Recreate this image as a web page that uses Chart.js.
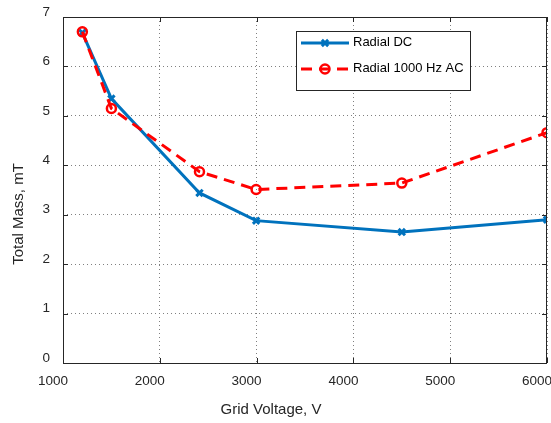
<!DOCTYPE html>
<html>
<head>
<meta charset="utf-8">
<script src="https://cdn.jsdelivr.net/npm/chart.js@4"></script>
<style>
  html, body { margin: 0; padding: 0; background: #fff; }
  #wrap { width: 551px; height: 423px; }
</style>
</head>
<body>
<div id="wrap"><canvas id="massChart" width="551" height="423"></canvas></div>
<script>
// values
const voltage = [1200, 1500, 2410, 2995, 4500, 6000];
const massDC = [6.68, 5.35, 3.44, 2.88, 2.65, 2.90];
const massAC = [6.70, 5.15, 3.87, 3.51, 3.64, 4.66];
const seriesNames = ['Radial DC', 'Radial 1000 Hz AC'];
const xTicks = [1000, 2000, 3000, 4000, 5000, 6000];
const yTicks = [0, 1, 2, 3, 4, 5, 6, 7];
const xTitle = 'Grid Voltage, V';
const yTitle = 'Total Mass, mT';

const axisColor = '#262626';
const FONT = 'Liberation Sans, Arial, Helvetica, sans-serif';

// box round the plot, with small inward ticks like the original
const boxPlugin = {
  id: 'box',
  afterDatasetsDraw(chart) {
    const { ctx, chartArea: a, scales } = chart;
    ctx.save();
    ctx.strokeStyle = axisColor;
    ctx.lineWidth = 1;
    ctx.strokeRect(a.left + 0.5, a.top + 0.5, a.right - a.left - 1, a.bottom - a.top);
    ctx.beginPath();
    xTicks.forEach(v => {
      const px = Math.round(scales.x.getPixelForValue(v)) + 0.5;
      ctx.moveTo(px, a.bottom); ctx.lineTo(px, a.bottom - 5);
      ctx.moveTo(px, a.top); ctx.lineTo(px, a.top + 5);
    });
    yTicks.forEach(v => {
      const py = Math.round(scales.y.getPixelForValue(v)) + 0.5;
      ctx.moveTo(a.left, py); ctx.lineTo(a.left + 5, py);
      ctx.moveTo(a.right, py); ctx.lineTo(a.right - 5, py);
    });
    ctx.stroke();
    ctx.restore();
  }
};

// axis titles sit off-centre in the original, so they are placed by hand
const axisTitles = {
  id: 'axisTitles',
  afterDraw(chart) {
    const ctx = chart.ctx;
    ctx.save();
    ctx.fillStyle = axisColor;
    ctx.font = '15px ' + FONT;
    ctx.textAlign = 'center';
    ctx.textBaseline = 'middle';
    ctx.fillText(xTitle, 271, 410);
    ctx.translate(19, 214);
    ctx.rotate(-Math.PI / 2);
    ctx.fillText(yTitle, 0, 0);
    ctx.restore();
  }
};

// legend box drawn inside the plot, top right
const legendBox = {
  id: 'legendBox',
  afterDraw(chart) {
    const ctx = chart.ctx;
    const x0 = 296, y0 = 31, w = 174, h = 59;
    ctx.save();
    ctx.fillStyle = '#fff';
    ctx.fillRect(x0, y0, w, h);
    ctx.strokeStyle = axisColor;
    ctx.lineWidth = 1;
    ctx.strokeRect(x0 + 0.5, y0 + 0.5, w, h);
    chart.data.datasets.forEach((ds, i) => {
      const y = y0 + 12 + i * 26;
      ctx.strokeStyle = ds.borderColor;
      ctx.lineWidth = ds.borderWidth;
      ctx.setLineDash(ds.borderDash || []);
      ctx.beginPath();
      ctx.moveTo(x0 + 5, y);
      ctx.lineTo(x0 + 53, y);
      ctx.stroke();
      ctx.setLineDash([]);
      ctx.fillStyle = ds.pointBackgroundColor || ds.borderColor;
      ctx.strokeStyle = ds.pointBorderColor;
      ctx.lineWidth = ds.pointBorderWidth;
      Chart.helpers.drawPoint(ctx, {
        pointStyle: ds.pointStyle,
        radius: ds.pointRadius,
        borderWidth: ds.pointBorderWidth
      }, x0 + 29, y);
      ctx.fillStyle = '#000';
      ctx.font = '13px ' + FONT;
      ctx.textBaseline = 'middle';
      ctx.fillText(ds.label, x0 + 57, y - 1);
    });
    ctx.restore();
  }
};

const ctx = document.getElementById('massChart').getContext('2d');
new Chart(ctx, {
  type: 'line',
  data: {
    datasets: [
      {
        label: seriesNames[0],
        data: voltage.map((v, i) => ({ x: v, y: massDC[i] })),
        borderColor: '#0072BD',
        backgroundColor: '#0072BD',
        borderWidth: 3,
        pointStyle: 'crossRot',
        pointRadius: 4.5,
        pointBorderWidth: 3,
        pointBorderColor: '#0072BD',
        order: 1
      },
      {
        label: seriesNames[1],
        data: voltage.map((v, i) => ({ x: v, y: massAC[i] })),
        borderColor: '#FF0000',
        backgroundColor: 'rgba(0,0,0,0)',
        borderWidth: 3,
        borderDash: [11, 7],
        pointStyle: 'circle',
        pointRadius: 4.5,
        pointBorderWidth: 2.5,
        pointBorderColor: '#FF0000',
        pointBackgroundColor: 'rgba(0,0,0,0)',
        order: 0
      }
    ]
  },
  options: {
    responsive: false,
    animation: false,
    // no auto padding for the markers, the plot runs to the right edge
    layout: { autoPadding: false, padding: { top: 17, right: 4, left: 0, bottom: 0 } },
    plugins: { legend: { display: false }, tooltip: { enabled: false } },
    scales: {
      x: {
        type: 'linear',
        min: 1000,
        max: 6000,
        afterFit: s => { s.height = 60; s.paddingLeft = 0; s.paddingRight = 0; },
        afterBuildTicks: s => { s.ticks = xTicks.map(v => ({ value: v })); },
        ticks: {
          padding: 10,
          labelOffset: -10,
          color: axisColor,
          font: { family: FONT, size: 13.5 },
          maxRotation: 0,
          callback: v => String(v)
        },
        grid: { color: '#808080', drawTicks: false, lineWidth: 1 },
        border: { display: false, dash: [1, 3] }
      },
      y: {
        min: 0,
        max: 7,
        afterFit: s => { s.width = 63; s.paddingTop = 0; s.paddingBottom = 0; },
        afterBuildTicks: s => { s.ticks = yTicks.map(v => ({ value: v })); },
        ticks: {
          padding: 13,
          labelOffset: -5,
          color: axisColor,
          font: { family: FONT, size: 13.5 },
          callback: v => String(v)
        },
        grid: { color: '#808080', drawTicks: false, lineWidth: 1 },
        border: { display: false, dash: [1, 3] }
      }
    }
  },
  plugins: [boxPlugin, axisTitles, legendBox]
});
</script>
</body>
</html>
